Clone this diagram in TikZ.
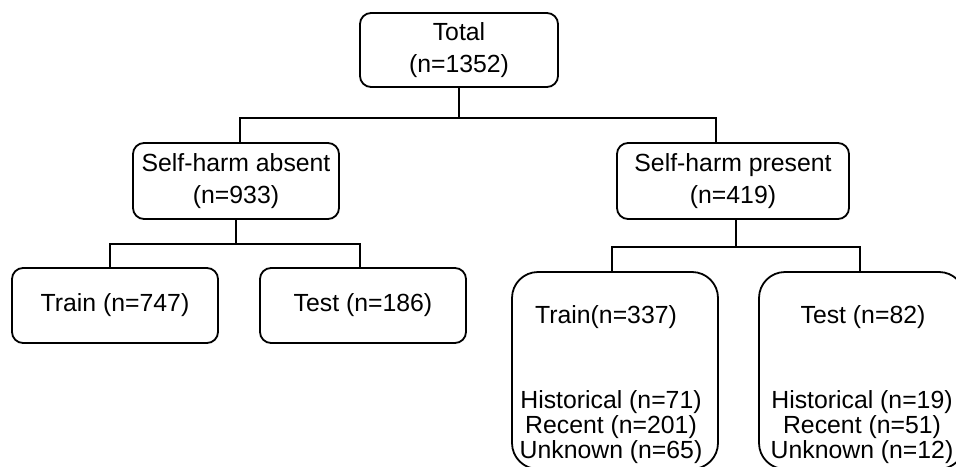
\documentclass[tikz,border=0pt]{standalone}
\usepackage{fontspec}
\setmainfont{Liberation Sans}
\begin{document}
\begin{tikzpicture}[x=1pt,y=-1pt,line width=1.8pt,
  txtfont/.style={font=\fontsize{24.8}{32}\selectfont},
  box/.style={draw, rounded corners=11pt, inner sep=0pt, align=center, txtfont},
  bigbox/.style={draw, rounded corners=26pt, inner sep=0pt, minimum width=206pt, minimum height=197pt},
  lbl/.style={inner sep=0pt, anchor=base, txtfont}]
\useasboundingbox (0,0) rectangle (956,466);
\clip (0,0) rectangle (956,466);
% boxes
\node[box, minimum width=198pt, minimum height=74pt] (total) at (459,50) {Total\\(n=1352)};
\node[box, minimum width=206pt, minimum height=76pt] (absent) at (236,181) {Self-harm absent\\(n=933)};
\node[box, minimum width=232pt, minimum height=76pt] (present) at (733,181) {Self-harm present\\(n=419)};
\node[box, minimum width=206pt, minimum height=75pt] (trainA) at (115,305.5) {Train (n=747)};
\node[box, minimum width=206pt, minimum height=75pt] (testA) at (363,305.5) {Test (n=186)};
\node[bigbox] (trainP) at (615,370.5) {};
\node[bigbox] (testP) at (862,370.5) {};
% texts of big boxes
\node[lbl] (trP1) at (606,323) {Train(n=337)};
\node[lbl] (trP2) at (611,408) {Historical (n=71)};
\node[lbl] (trP3) at (611,433) {Recent (n=201)};
\node[lbl] (trP4) at (611,458) {Unknown (n=65)};
\node[lbl] (teP1) at (863,323) {Test (n=82)};
\node[lbl] (teP2) at (862,408) {Historical (n=19)};
\node[lbl] (teP3) at (862,433) {Recent (n=51)};
\node[lbl] (teP4) at (862,458) {Unknown (n=12)};
% connectors
\coordinate (jt) at (459,118);
\coordinate (jl) at (240,118);
\coordinate (jr) at (716,118);
\draw (total.south) -- (jt);
\draw (absent.north -| jl) -- (jl) -- (jr) -- (present.north -| jr);
\coordinate (ja) at (236,244);
\coordinate (jal) at (110,244);
\coordinate (jar) at (360,244);
\draw (absent.south) -- (ja);
\draw (trainA.north -| jal) -- (jal) -- (jar) -- (testA.north -| jar);
\coordinate (jp) at (736,247);
\coordinate (jpl) at (612,247);
\coordinate (jpr) at (860,247);
\draw (present.south -| jp) -- (jp);
\draw (trainP.north -| jpl) -- (jpl) -- (jpr) -- (testP.north -| jpr);
\end{tikzpicture}
\end{document}
